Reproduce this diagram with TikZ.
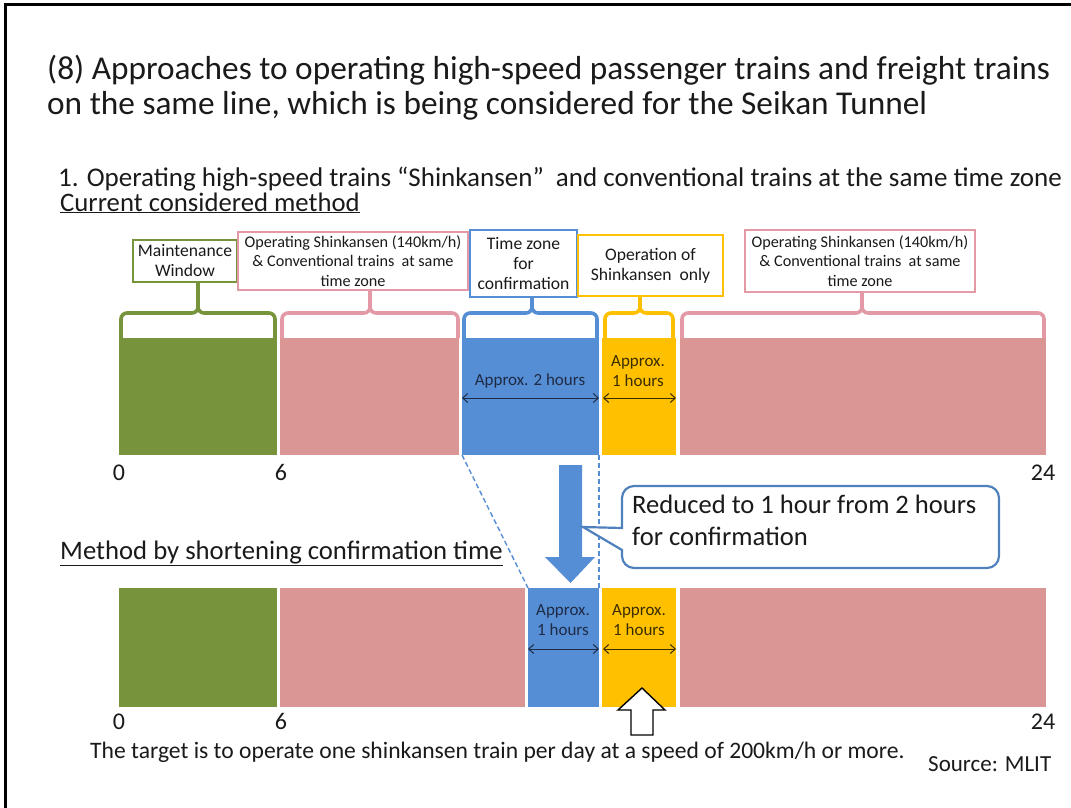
\documentclass[tikz,border=0pt]{standalone}
\usepackage{fontspec}
\setmainfont{Carlito}
\usetikzlibrary{arrows.meta}
\definecolor{grn}{HTML}{77933C}
\definecolor{pnk}{HTML}{D99694}
\definecolor{pnkline}{HTML}{E39AA6}
\definecolor{blu}{HTML}{558ED5}
\definecolor{bluline}{HTML}{4F81BD}
\definecolor{ylw}{HTML}{FFC000}
\definecolor{txt}{HTML}{1A1A1A}
\definecolor{navy}{HTML}{1F2A44}
\definecolor{brn}{HTML}{3A2E00}
\tikzset{
  lbl/.style={draw, line width=2.2pt, fill=white, align=center, inner sep=0pt, text=txt,
    font=\fontsize{17.6}{20}\selectfont},
  lblp/.style={lbl, font=\fontsize{16.2}{19.5}\selectfont},
  brk/.style={line width=3.6pt, rounded corners=6pt},
  dbl/.style={{Straight Barb[length=5pt,width=9pt]}-{Straight Barb[length=5pt,width=9pt]}, line width=1pt},
  small/.style={font=\fontsize{17}{20}\selectfont, align=center, inner sep=0pt},
  num/.style={font=\fontsize{24}{28}\selectfont, text=txt, inner sep=0pt, anchor=base},
  plain/.style={anchor=base west, inner sep=0pt, text=txt},
}
\begin{document}
\begin{tikzpicture}[x=1pt,y=-1pt]
\useasboundingbox (0,0) rectangle (1071,808);
\fill[white] (0,0) rectangle (1071,808);
% frame
\draw[line width=3pt, black] (5,808) -- (5,5) -- (1071,5);
% titles
\node[plain, font=\fontsize{33.3}{36}\selectfont] (t1) at (47,80) {(8) Approaches to operating high-speed passenger trains and freight trains};
\node[plain, font=\fontsize{33.3}{36}\selectfont] (t2) at (47,114) {on the same line, which is being considered for the Seikan Tunnel};
\node[plain, font=\fontsize{27}{30}\selectfont] (t3) at (58,186) {1. Operating high-speed trains “Shinkansen”\ \ and conventional trains at the same time zone};
\node[plain, font=\fontsize{26.7}{30}\selectfont] (h1) at (60,211) {\underline{Current considered method}};
\node[plain, font=\fontsize{26.7}{30}\selectfont] (h2) at (60,559) {\underline{Method by shortening confirmation time}};

% upper bars
\fill[grn] (119,338) rectangle (277,455);
\fill[pnk] (280,338) rectangle (459,455);
\fill[blu] (462,338) rectangle (599,455);
\fill[ylw] (602,338) rectangle (676,455);
\fill[pnk] (680,338) rectangle (1046,455);

% lower bars
\fill[grn] (119,588) rectangle (277,707);
\fill[pnk] (280,588) rectangle (525,707);
\fill[blu] (528,588) rectangle (599,707);
\fill[ylw] (602,588) rectangle (676,707);
\fill[pnk] (680,588) rectangle (1046,707);

% label boxes
\node[lbl, draw=grn, minimum width=104pt, minimum height=42pt] (bg) at (185,261) {Maintenance\\Window};
\node[lblp, draw=pnkline, minimum width=230pt, minimum height=58pt] (bp1) at (353,261) {Operating Shinkansen (140km/h)\\\& Conventional trains\ \ at same\\time zone};
\node[lbl, draw=blu, minimum width=107pt, minimum height=67pt] (bb) at (523.5,263.5) {Time zone\\for\\confirmation};
\node[lbl, draw=ylw, minimum width=145pt, minimum height=61pt] (by) at (650.5,265.5) {Operation of\\Shinkansen\ \ only};
\node[lblp, draw=pnkline, minimum width=230pt, minimum height=62pt] (bp2) at (860,261) {Operating Shinkansen (140km/h)\\\& Conventional trains\ \ at same\\time zone};

% brackets
\draw[brk, grn] (121,338) -- (121,313) -- (198,313) -- (198,313 |- bg.south);
\draw[brk, grn] (275,338) -- (275,313) -- (198,313) -- (198,313 |- bg.south);
\draw[brk, pnkline] (282,338) -- (282,313) -- (370,313) -- (370,313 |- bp1.south);
\draw[brk, pnkline] (458,338) -- (458,313) -- (370,313) -- (370,313 |- bp1.south);
\draw[brk, blu] (464,338) -- (464,313) -- (532,313) -- (532,313 |- bb.south);
\draw[brk, blu] (597,338) -- (597,313) -- (532,313) -- (532,313 |- bb.south);
\draw[brk, ylw] (605,338) -- (605,313) -- (640,313) -- (640,313 |- by.south);
\draw[brk, ylw] (673,338) -- (673,313) -- (640,313) -- (640,313 |- by.south);
\draw[brk, pnkline] (682,338) -- (682,313) -- (862,313) -- (862,313 |- bp2.south);
\draw[brk, pnkline] (1044,338) -- (1044,313) -- (862,313) -- (862,313 |- bp2.south);

% upper approx labels
\node[small, text=navy] (ua) at (530,381) {Approx. 2 hours};
\coordinate (ua1) at (462,398); \coordinate (ua2) at (599,398);
\draw[dbl, navy] (ua1) -- (ua2);
\node[small, text=brn] (ub) at (638,371) {Approx.\\1 hours};
\coordinate (ub1) at (603,398); \coordinate (ub2) at (676,398);
\draw[dbl, brn] (ub1) -- (ub2);

% lower approx labels
\node[small, text=navy] (la) at (563,620) {Approx.\\1 hours};
\coordinate (la1) at (528,649); \coordinate (la2) at (599,649);
\draw[dbl, navy] (la1) -- (la2);
\node[small, text=brn] (lb) at (639,620) {Approx.\\1 hours};
\coordinate (lb1) at (603,649); \coordinate (lb2) at (676,649);
\draw[dbl, brn] (lb1) -- (lb2);

% numbers
\node[num] (n0a) at (119,480) {0};
\node[num] (n6a) at (281,480) {6};
\node[num] (n24a) at (1043,480) {24};
\node[num] (n0b) at (119,729) {0};
\node[num] (n6b) at (281,729) {6};
\node[num] (n24b) at (1043,729) {24};

% dashed projection lines
\coordinate (d1) at (462,455); \coordinate (d2) at (528,588);
\coordinate (d3) at (599,455); \coordinate (d4) at (599,588);
\draw[blu, dash pattern=on 5pt off 3pt, line width=1.4pt] (d1) -- (d2);
\draw[blu, dash pattern=on 5pt off 3pt, line width=1.4pt] (d3) -- (d4);

% big blue down arrow
\fill[blu] (559,465) -- (582,465) -- (582,557) -- (595,557) -- (570.5,583) -- (545,557) -- (559,557) -- cycle;

% callout
\draw[bluline, line width=2.2pt, fill=white] (622,528) [rounded corners=12pt] -- (622,486) -- (999,486) -- (999,568) -- (622,568) [sharp corners] -- (622,550) -- (583,527) -- cycle;
\node[anchor=north west, align=left, inner sep=0pt, text=txt, font=\fontsize{26.6}{32}\selectfont] (co) at (632,495) {Reduced to 1 hour from 2 hours\\for confirmation};

% white up arrow
\draw[black, line width=1.4pt, fill=white] (631,735) -- (631,710) -- (618,710) -- (642,688) -- (665,710) -- (653,710) -- (653,735) -- cycle;

% bottom texts
\node[plain, font=\fontsize{23.6}{26}\selectfont] (bt) at (90,758) {The target is to operate one shinkansen train per day at a speed of 200km/h or more.};
\node[plain, font=\fontsize{23}{26}\selectfont] (src) at (928,771) {Source: MLIT};
\end{tikzpicture}
\end{document}
